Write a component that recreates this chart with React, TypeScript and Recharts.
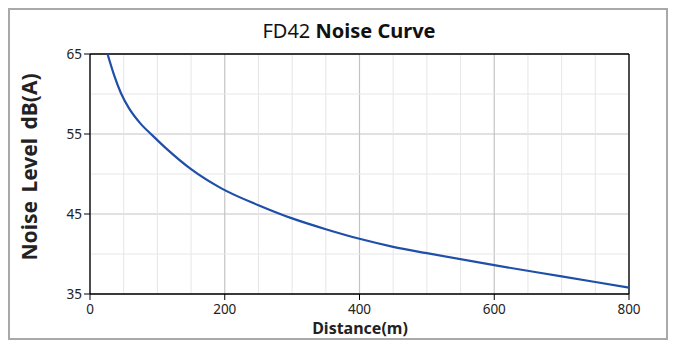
import React from "react";
import { LineChart, Line, XAxis, YAxis, CartesianGrid, ReferenceLine } from "recharts";

const distances = [26, 36, 46, 58, 75, 93, 113, 150, 195, 250, 300, 350, 400, 450, 500, 600, 700, 800];
const noiseLevels = [65, 62.3, 60.1, 58.2, 56.3, 54.8, 53.2, 50.6, 48.2, 46.1, 44.45, 43.1, 41.9, 40.9, 40.1, 38.6, 37.2, 35.8];
const xTicks = [0, 200, 400, 600, 800];
const yTicks = [35, 45, 55, 65];
const xMinor = [50, 100, 150, 250, 300, 350, 450, 500, 550, 650, 700, 750];
const yMinor = [40, 50, 60];

const data = distances.map((d, i) => ({ d, db: noiseLevels[i] }));

const FONT = "'Noto Sans', 'Open Sans', sans-serif";

export default function App() {
  return (
    <div
      style={{
        position: "relative",
        width: 660,
        height: 332,
        border: "2px solid #a9a9a9",
        boxSizing: "border-box",
        background: "#fff",
        fontFamily: FONT,
      }}
    >
      <LineChart
        width={656}
        height={328}
        data={data}
        margin={{ top: 44, right: 37, bottom: 0, left: 0 }}
      >
        {xMinor.map((v) => (
          <ReferenceLine key={"xm" + v} x={v} stroke="#e6e6e6" strokeWidth={1} />
        ))}
        {yMinor.map((v) => (
          <ReferenceLine key={"ym" + v} y={v} stroke="#e6e6e6" strokeWidth={1} />
        ))}
        <CartesianGrid stroke="#c4c4c4" strokeWidth={1.2} />
        <ReferenceLine y={65} stroke="#000" strokeWidth={1.3} />
        <ReferenceLine x={800} stroke="#000" strokeWidth={1.3} />
        <XAxis
          dataKey="d"
          type="number"
          domain={[0, 800]}
          ticks={xTicks}
          height={44}
          tickSize={6}
          tickMargin={4}
          axisLine={{ stroke: "#000", strokeWidth: 1.3 }}
          tickLine={{ stroke: "#000" }}
          tick={{ fill: "#222", fontSize: 13.5, fontFamily: FONT }}
          interval={0}
        />
        <YAxis
          type="number"
          domain={[35, 65]}
          ticks={yTicks}
          width={80}
          tickSize={6}
          tickMargin={2}
          allowDataOverflow
          axisLine={{ stroke: "#000", strokeWidth: 1.3 }}
          tickLine={{ stroke: "#000" }}
          tick={{ fill: "#222", fontSize: 13.5, fontFamily: FONT }}
          interval={0}
        />
        <Line
          dataKey="db"
          type="monotone"
          stroke="#1f4fa8"
          strokeWidth={2.2}
          dot={false}
          isAnimationActive={false}
        />
      </LineChart>
      <div
        style={{
          position: "absolute",
          left: 339,
          top: 11,
          transform: "translateX(-50%)",
          fontSize: 20,
          lineHeight: 1,
          whiteSpace: "nowrap",
          color: "#111",
        }}
      >
        <span style={{ fontWeight: 400 }}>FD42 </span>
        <span style={{ fontWeight: 700 }}>Noise Curve</span>
      </div>
      <div
        style={{
          position: "absolute",
          left: 19,
          top: 157,
          transform: "translate(-50%, -50%) rotate(-90deg)",
          fontSize: 21,
          fontWeight: 700,
          lineHeight: 1,
          whiteSpace: "nowrap",
          color: "#222",
          wordSpacing: 3,
        }}
      >
        Noise Level dB(A)
      </div>
      <div
        style={{
          position: "absolute",
          left: 350,
          top: 310,
          transform: "translateX(-50%)",
          fontSize: 16,
          fontWeight: 700,
          lineHeight: 1,
          whiteSpace: "nowrap",
          color: "#222",
        }}
      >
        Distance(m)
      </div>
    </div>
  );
}
